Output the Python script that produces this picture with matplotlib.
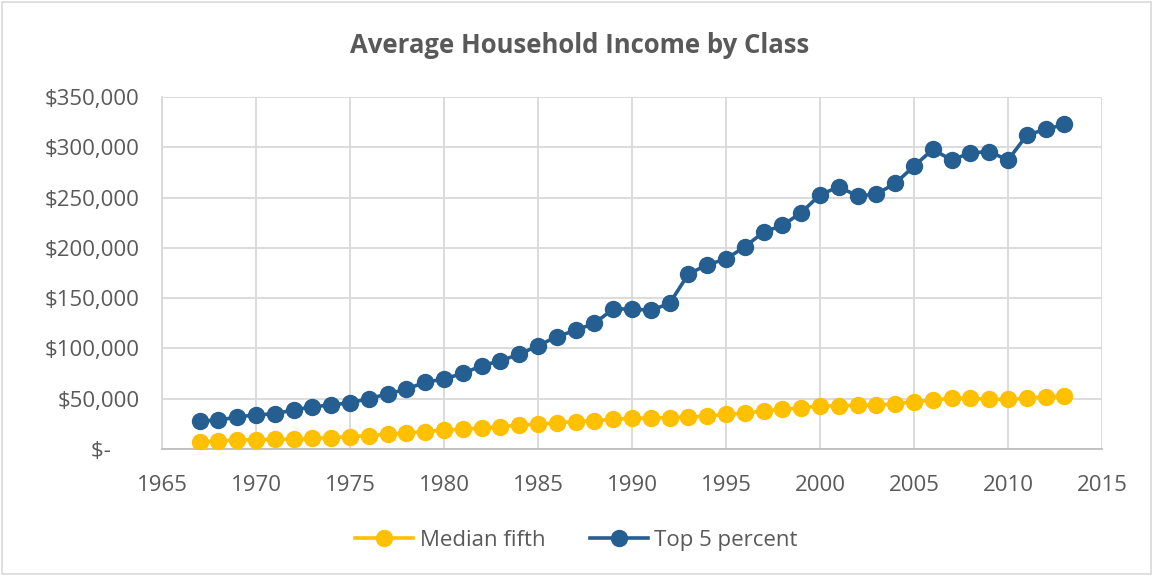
import matplotlib
matplotlib.use("Agg")
import matplotlib.pyplot as plt
from matplotlib.patches import Rectangle
from matplotlib.ticker import FuncFormatter

years = list(range(1967, 2014))
median_fifth = [7300, 7950, 8950, 9300, 9500, 9800, 10600, 11300, 12300, 13300,
                14600, 16200, 17200, 18900, 19600, 20800, 22200, 23900, 24500, 26200,
                27200, 28200, 29500, 30500, 30800, 31300, 31800, 32800, 34500, 35500,
                37800, 39400, 41000, 42700, 42900, 43400, 43700, 44700, 47000, 48700,
                50400, 50400, 49400, 49400, 50400, 52000, 53000]
top_5_percent = [28100, 28500, 32000, 33800, 35000, 38800, 42000, 43700, 46000, 50000,
                 54700, 59600, 66300, 69600, 75200, 82600, 87800, 94100, 102700, 111700,
                 118000, 125000, 139200, 139200, 137900, 144800, 174000, 183200, 188900, 201100,
                 215700, 222300, 235000, 252800, 260700, 251500, 253500, 264100, 281300, 297900,
                 287300, 294500, 295600, 287300, 312100, 317800, 322700]

title = "Average Household Income by Class"
series_names = ["Median fifth", "Top 5 percent"]
x_ticks = list(range(1965, 2016, 5))
y_ticks = list(range(0, 350001, 50000))

plt.rcParams['font.family'] = ['Open Sans', 'DejaVu Sans']
txt = '#595959'

fig = plt.figure(figsize=(11.53, 5.76), dpi=100)
ax = fig.add_axes([0.1405, 0.2205, 0.9558 - 0.1405, 0.8316 - 0.2205])

ax.plot(years, median_fifth, color='#FFC000', lw=2.6, marker='o', ms=11.5,
        label=series_names[0], zorder=3)
ax.plot(years, top_5_percent, color='#255E91', lw=2.6, marker='o', ms=11.5,
        label=series_names[1], zorder=3)

ax.set_xlim(1965, 2015)
ax.set_ylim(0, 350000)
ax.set_xticks(x_ticks)
ax.set_yticks(y_ticks)

def yfmt(v, pos):
    if v == 0:
        return "$-     "
    return "${:,.0f}".format(v)
ax.yaxis.set_major_formatter(FuncFormatter(yfmt))

ax.grid(True, color='#d9d9d9', lw=1.3, zorder=0)
ax.set_axisbelow(True)
for s in ['top', 'right']:
    ax.spines[s].set_visible(False)
ax.spines['left'].set_color('#d9d9d9')
ax.spines['left'].set_linewidth(1.3)
ax.spines['bottom'].set_color('#bfbfbf')
ax.spines['bottom'].set_linewidth(1.3)
ax.tick_params(axis='both', length=0, labelsize=16, colors=txt)
ax.tick_params(axis='x', pad=19)
ax.tick_params(axis='y', pad=16)

fig.text(0.503, 0.921, title, ha='center', va='center', fontsize=18.5,
         fontweight='bold', color=txt)

leg = fig.legend(loc='center', bbox_to_anchor=(0.5, 0.062), ncol=2, frameon=False,
                 fontsize=16, handlelength=2.6, columnspacing=2.0, handletextpad=0.3)
for t in leg.get_texts():
    t.set_color(txt)

fig.add_artist(Rectangle((0.002, 0.004), 0.996, 0.992, transform=fig.transFigure,
                         fill=False, edgecolor='#d9d9d9', lw=1.2))

fig.savefig('out.png', dpi=100)
